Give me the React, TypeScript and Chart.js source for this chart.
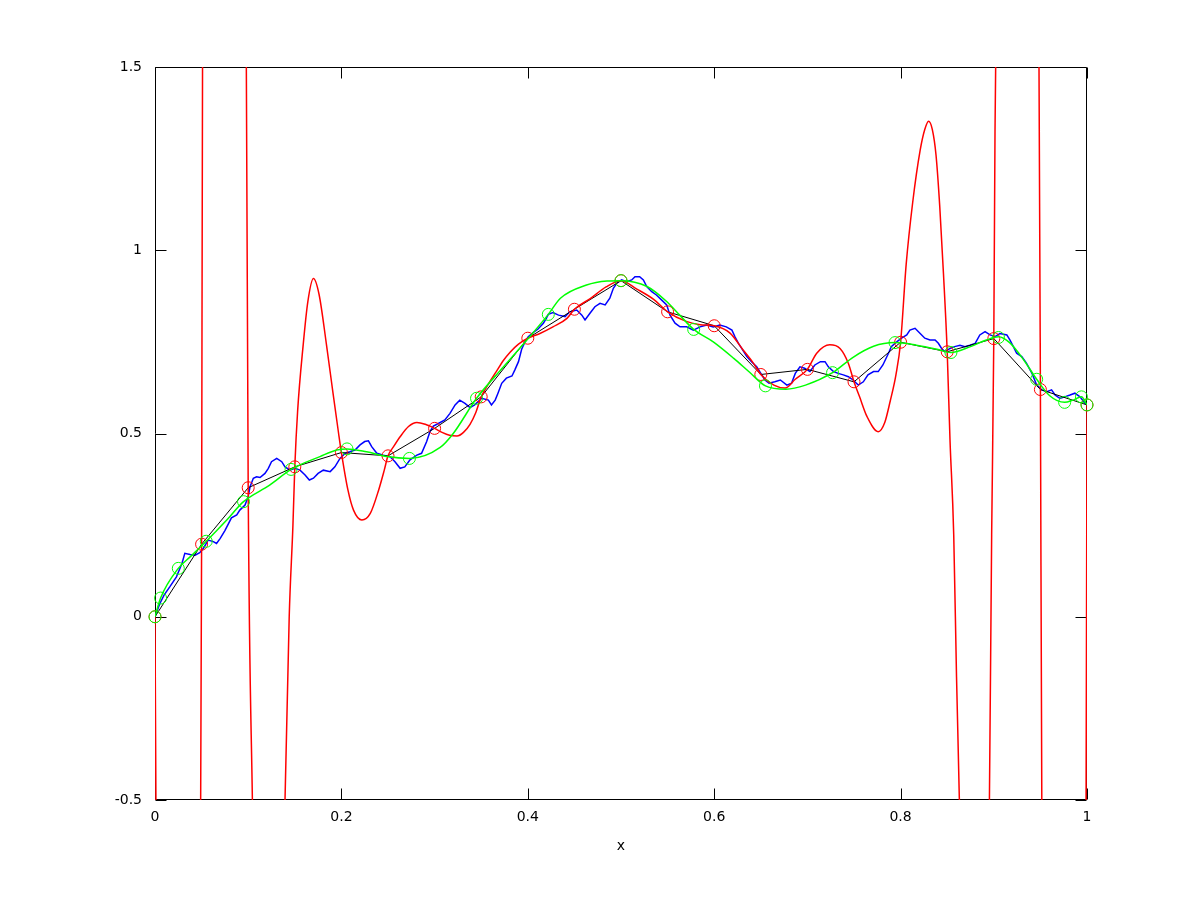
import React, { useEffect, useRef } from 'react';
import { Chart, registerables } from 'chart.js';

Chart.register(...registerables);

// Equally spaced sample points (red circles / black polyline)
const equiX = [0, 0.05, 0.1, 0.15, 0.2, 0.25, 0.3, 0.35, 0.4, 0.45, 0.5, 0.55, 0.6, 0.65, 0.7, 0.75, 0.8, 0.85, 0.9, 0.95, 1];
const equiY = [0, 0.198, 0.352, 0.409, 0.448, 0.439, 0.514, 0.6, 0.76, 0.839, 0.917, 0.832, 0.794, 0.661, 0.675, 0.641, 0.749, 0.723, 0.759, 0.62, 0.578];

// Chebyshev-like sample points (green circles)
const chebX = [0, 0.006, 0.025, 0.055, 0.095, 0.146, 0.206, 0.273, 0.345, 0.422, 0.5, 0.578, 0.655, 0.727, 0.794, 0.854, 0.905, 0.946, 0.976, 0.994, 1];
const chebY = [0, 0.051, 0.132, 0.206, 0.314, 0.402, 0.458, 0.432, 0.596, 0.825, 0.917, 0.784, 0.63, 0.666, 0.748, 0.721, 0.762, 0.648, 0.585, 0.6, 0.578];

// Green interpolating curve
const greenX = [0, 0.006, 0.025, 0.038, 0.055, 0.077, 0.095, 0.123, 0.146, 0.177, 0.195, 0.206, 0.227, 0.249, 0.273, 0.306, 0.32, 0.345, 0.374, 0.399, 0.422, 0.435, 0.463, 0.485, 0.5, 0.528, 0.549, 0.563, 0.578, 0.599, 0.621, 0.638, 0.655, 0.677, 0.698, 0.727, 0.749, 0.771, 0.794, 0.817, 0.839, 0.854, 0.875, 0.892, 0.905, 0.917, 0.932, 0.946, 0.96, 0.976, 0.985, 0.994, 1];
const greenY = [0, 0.051, 0.132, 0.164, 0.206, 0.264, 0.314, 0.359, 0.402, 0.437, 0.455, 0.458, 0.45, 0.437, 0.432, 0.462, 0.5, 0.596, 0.682, 0.755, 0.825, 0.869, 0.905, 0.916, 0.917, 0.901, 0.86, 0.823, 0.784, 0.75, 0.705, 0.667, 0.63, 0.621, 0.632, 0.666, 0.708, 0.738, 0.748, 0.741, 0.73, 0.721, 0.737, 0.755, 0.764, 0.748, 0.701, 0.648, 0.603, 0.585, 0.591, 0.6, 0.578];

// Red interpolating curve (runs off the plot near the ends)
const redX = [0, 0.001, 0.025, 0.049, 0.05, 0.051, 0.075, 0.098, 0.1, 0.1045, 0.122, 0.1395, 0.144, 0.148, 0.15, 0.153, 0.159, 0.164, 0.17, 0.176, 0.184, 0.191, 0.197, 0.2, 0.207, 0.213, 0.222, 0.231, 0.24, 0.246, 0.25, 0.256, 0.263, 0.272, 0.281, 0.29, 0.3, 0.308, 0.316, 0.324, 0.331, 0.338, 0.344, 0.35, 0.358, 0.366, 0.374, 0.381, 0.39, 0.4, 0.413, 0.427, 0.442, 0.45, 0.467, 0.484, 0.5, 0.517, 0.535, 0.55, 0.57, 0.585, 0.6, 0.617, 0.631, 0.642, 0.65, 0.664, 0.676, 0.687, 0.7, 0.71, 0.724, 0.735, 0.744, 0.75, 0.756, 0.764, 0.776, 0.783, 0.789, 0.795, 0.8, 0.806, 0.813, 0.821, 0.826, 0.83, 0.834, 0.838, 0.842, 0.846, 0.85, 0.853, 0.857, 0.86, 0.863, 0.88, 0.8953, 0.8977, 0.9, 0.9013, 0.902, 0.925, 0.9485, 0.95, 0.9515, 0.975, 0.999, 1];
const redY = [0, -0.5, -5, -0.5, 0.198, 1.5, 5, 1.5, 0.352, -0.5, -3, -0.5, 0, 0.25, 0.409, 0.56, 0.742, 0.86, 0.923, 0.88, 0.742, 0.61, 0.5, 0.448, 0.346, 0.291, 0.264, 0.282, 0.346, 0.4, 0.439, 0.464, 0.491, 0.519, 0.53, 0.525, 0.514, 0.503, 0.495, 0.493, 0.503, 0.525, 0.556, 0.6, 0.636, 0.668, 0.7, 0.722, 0.744, 0.76, 0.773, 0.791, 0.814, 0.839, 0.868, 0.9, 0.917, 0.894, 0.866, 0.832, 0.806, 0.797, 0.794, 0.774, 0.728, 0.692, 0.661, 0.632, 0.624, 0.648, 0.675, 0.719, 0.742, 0.732, 0.691, 0.641, 0.6, 0.546, 0.505, 0.53, 0.59, 0.66, 0.749, 0.962, 1.131, 1.273, 1.33, 1.352, 1.33, 1.26, 1.12, 0.936, 0.723, 0.483, 0.224, -0.164, -0.494, -3, -0.5, 0.224, 0.759, 1.325, 1.5, 5, 1.5, 0.62, -0.5, -5, -0.5, 0.578];

// Blue noisy data curve
const blueX = [0, 0.005, 0.0097, 0.016, 0.023, 0.029, 0.032, 0.0376, 0.043, 0.048, 0.052, 0.057, 0.0626, 0.066, 0.07, 0.075, 0.079, 0.082, 0.0877, 0.091, 0.0966, 0.1, 0.102, 0.1055, 0.109, 0.1127, 0.118, 0.1216, 0.125, 0.1306, 0.136, 0.1395, 0.145, 0.15, 0.1556, 0.161, 0.1656, 0.17, 0.175, 0.1806, 0.188, 0.193, 0.1985, 0.204, 0.209, 0.2146, 0.22, 0.225, 0.229, 0.2325, 0.238, 0.245, 0.252, 0.2575, 0.263, 0.268, 0.2736, 0.281, 0.286, 0.2915, 0.295, 0.2987, 0.306, 0.311, 0.3165, 0.322, 0.327, 0.3326, 0.338, 0.343, 0.3505, 0.3577, 0.361, 0.365, 0.368, 0.372, 0.377, 0.383, 0.386, 0.39, 0.3934, 0.397, 0.4005, 0.406, 0.411, 0.4167, 0.42, 0.422, 0.427, 0.433, 0.44, 0.445, 0.4525, 0.458, 0.4614, 0.4667, 0.472, 0.4775, 0.483, 0.488, 0.4918, 0.4954, 0.5007, 0.506, 0.5115, 0.515, 0.52, 0.524, 0.5276, 0.533, 0.538, 0.5437, 0.549, 0.5526, 0.558, 0.5633, 0.5705, 0.5776, 0.5848, 0.592, 0.599, 0.606, 0.613, 0.619, 0.6223, 0.626, 0.6295, 0.635, 0.64, 0.6456, 0.651, 0.6545, 0.6588, 0.665, 0.671, 0.678, 0.683, 0.687, 0.692, 0.697, 0.7027, 0.708, 0.714, 0.7189, 0.7225, 0.728, 0.733, 0.7385, 0.744, 0.749, 0.7546, 0.76, 0.765, 0.771, 0.776, 0.781, 0.787, 0.79, 0.7958, 0.801, 0.8066, 0.81, 0.8155, 0.821, 0.826, 0.8315, 0.837, 0.8405, 0.844, 0.8476, 0.853, 0.858, 0.8637, 0.869, 0.8745, 0.88, 0.885, 0.8906, 0.896, 0.9013, 0.9067, 0.914, 0.9174, 0.921, 0.9245, 0.93, 0.935, 0.941, 0.946, 0.9514, 0.957, 0.962, 0.9657, 0.971, 0.976, 0.9818, 0.987, 0.9925, 0.998, 1];
const blueY = [0, 0.035, 0.059, 0.082, 0.109, 0.146, 0.173, 0.17, 0.168, 0.175, 0.187, 0.209, 0.205, 0.2, 0.214, 0.235, 0.255, 0.27, 0.278, 0.291, 0.305, 0.328, 0.355, 0.378, 0.382, 0.38, 0.391, 0.405, 0.423, 0.432, 0.423, 0.409, 0.4, 0.405, 0.4, 0.387, 0.373, 0.378, 0.391, 0.4, 0.396, 0.409, 0.432, 0.446, 0.45, 0.455, 0.469, 0.478, 0.48, 0.464, 0.446, 0.441, 0.437, 0.423, 0.405, 0.409, 0.428, 0.441, 0.446, 0.478, 0.505, 0.52, 0.53, 0.537, 0.555, 0.578, 0.591, 0.582, 0.571, 0.578, 0.596, 0.591, 0.578, 0.591, 0.61, 0.637, 0.651, 0.657, 0.673, 0.696, 0.73, 0.75, 0.764, 0.776, 0.785, 0.801, 0.815, 0.825, 0.83, 0.823, 0.819, 0.832, 0.837, 0.823, 0.81, 0.828, 0.846, 0.855, 0.851, 0.869, 0.896, 0.91, 0.919, 0.914, 0.919, 0.928, 0.928, 0.919, 0.901, 0.887, 0.878, 0.864, 0.851, 0.823, 0.801, 0.791, 0.791, 0.782, 0.791, 0.796, 0.791, 0.796, 0.791, 0.782, 0.764, 0.746, 0.732, 0.71, 0.696, 0.682, 0.66, 0.646, 0.637, 0.641, 0.646, 0.632, 0.637, 0.664, 0.682, 0.678, 0.669, 0.687, 0.696, 0.696, 0.682, 0.669, 0.664, 0.66, 0.655, 0.646, 0.632, 0.641, 0.66, 0.669, 0.669, 0.687, 0.719, 0.737, 0.75, 0.76, 0.769, 0.782, 0.787, 0.773, 0.76, 0.755, 0.755, 0.746, 0.732, 0.723, 0.732, 0.737, 0.741, 0.737, 0.741, 0.746, 0.769, 0.778, 0.769, 0.764, 0.773, 0.769, 0.755, 0.737, 0.719, 0.71, 0.692, 0.664, 0.632, 0.619, 0.614, 0.619, 0.605, 0.596, 0.6, 0.605, 0.61, 0.6, 0.582, 0.578];

const xTickValues = [0, 0.2, 0.4, 0.6, 0.8, 1];
const xTickLabels = ['0', '0.2', '0.4', '0.6', '0.8', '1'];
const yTickValues = [-0.5, 0, 0.5, 1, 1.5];
const yTickLabels = ['-0.5', '0', '0.5', '1', '1.5'];
const xTitle = 'x';

const pts = (xs: number[], ys: number[]) => xs.map((x, i) => ({ x, y: ys[i] }));

export default function App() {
  const ref = useRef<HTMLCanvasElement>(null);

  useEffect(() => {
    const font = { family: 'DejaVu Sans', size: 14 };
    const framePlugin = {
      id: 'frame',
      beforeDatasetsDraw(chart: any) {
        const { ctx, chartArea: a, scales } = chart;
        const L = Math.round(a.left) + 0.5;
        const R = Math.round(a.right) - 0.5;
        const T = Math.round(a.top) + 0.5;
        const B = Math.round(a.bottom) - 0.5;
        const tl = 11;
        ctx.save();
        ctx.strokeStyle = '#000';
        ctx.lineWidth = 1;
        ctx.beginPath();
        ctx.rect(L, T, R - L, B - T);
        xTickValues.forEach((v) => {
          const px = Math.round(scales.x.getPixelForValue(v)) + 0.5;
          ctx.moveTo(px, B);
          ctx.lineTo(px, B - tl);
          ctx.moveTo(px, T);
          ctx.lineTo(px, T + tl);
        });
        yTickValues.forEach((v) => {
          const py = Math.round(scales.y.getPixelForValue(v)) + 0.5;
          ctx.moveTo(L, py);
          ctx.lineTo(L + tl, py);
          ctx.moveTo(R, py);
          ctx.lineTo(R - tl, py);
        });
        ctx.stroke();
        ctx.restore();
      },
    };

    const chart = new Chart(ref.current as HTMLCanvasElement, {
      type: 'scatter',
      data: {
        datasets: [
          {
            label: 'green curve',
            data: pts(greenX, greenY),
            showLine: true,
            borderColor: '#00ff00',
            borderWidth: 1.5,
            pointRadius: 0,
            cubicInterpolationMode: 'monotone',
            order: 0,
          },
          {
            label: 'green nodes',
            data: pts(chebX, chebY),
            showLine: false,
            pointStyle: 'circle',
            pointRadius: 6,
            pointBorderWidth: 1,
            pointBorderColor: '#00ff00',
            pointBackgroundColor: 'rgba(0,0,0,0)',
            clip: false,
            order: 1,
          },
          {
            label: 'red nodes',
            data: pts(equiX, equiY),
            showLine: false,
            pointStyle: 'circle',
            pointRadius: 6,
            pointBorderWidth: 1,
            pointBorderColor: '#ff0000',
            pointBackgroundColor: 'rgba(0,0,0,0)',
            clip: false,
            order: 2,
          },
          {
            label: 'red curve',
            data: pts(redX, redY),
            showLine: true,
            borderColor: '#ff0000',
            borderWidth: 1.5,
            pointRadius: 0,
            cubicInterpolationMode: 'monotone',
            clip: 0,
            order: 3,
          },
          {
            label: 'black polyline',
            data: pts(equiX, equiY),
            showLine: true,
            borderColor: '#000000',
            borderWidth: 1,
            pointRadius: 0,
            order: 4,
          },
          {
            label: 'blue data',
            data: pts(blueX, blueY),
            showLine: true,
            borderColor: '#0000ff',
            borderWidth: 1.5,
            pointRadius: 0,
            order: 5,
          },
        ],
      } as any,
      options: {
        responsive: false,
        devicePixelRatio: 1,
        animation: false,
        events: [],
        layout: { padding: { left: 0, top: 67, right: 113, bottom: 0 } },
        plugins: { legend: { display: false }, tooltip: { enabled: false } },
        scales: {
          x: {
            type: 'linear',
            position: 'bottom',
            min: 0,
            max: 1,
            grid: { display: false, drawTicks: false },
            border: { display: false },
            afterBuildTicks: (s: any) => {
              s.ticks = xTickValues.map((v) => ({ value: v }));
            },
            afterFit: (s: any) => {
              s.height = 100;
            },
            ticks: {
              font,
              color: '#000',
              padding: 9,
              maxRotation: 0,
              autoSkip: false,
              callback: (_v: any, i: number) => xTickLabels[i],
            },
            title: {
              display: true,
              text: xTitle,
              font,
              color: '#000',
              padding: { top: 0, bottom: 45 },
            },
          },
          y: {
            type: 'linear',
            position: 'left',
            min: -0.5,
            max: 1.5,
            grid: { display: false, drawTicks: false },
            border: { display: false },
            afterBuildTicks: (s: any) => {
              s.ticks = yTickValues.map((v) => ({ value: v }));
            },
            afterFit: (s: any) => {
              s.width = 155;
            },
            ticks: {
              font,
              color: '#000',
              padding: 13,
              autoSkip: false,
              callback: (_v: any, i: number) => yTickLabels[i],
            },
          },
        },
      } as any,
      plugins: [framePlugin],
    });
    return () => chart.destroy();
  }, []);

  return (
    <div style={{ position: 'absolute', left: 0, top: 0, width: 1200, height: 900, background: '#ffffff' }}>
      <canvas ref={ref} width={1200} height={900} style={{ display: 'block', width: 1200, height: 900 }} />
    </div>
  );
}
